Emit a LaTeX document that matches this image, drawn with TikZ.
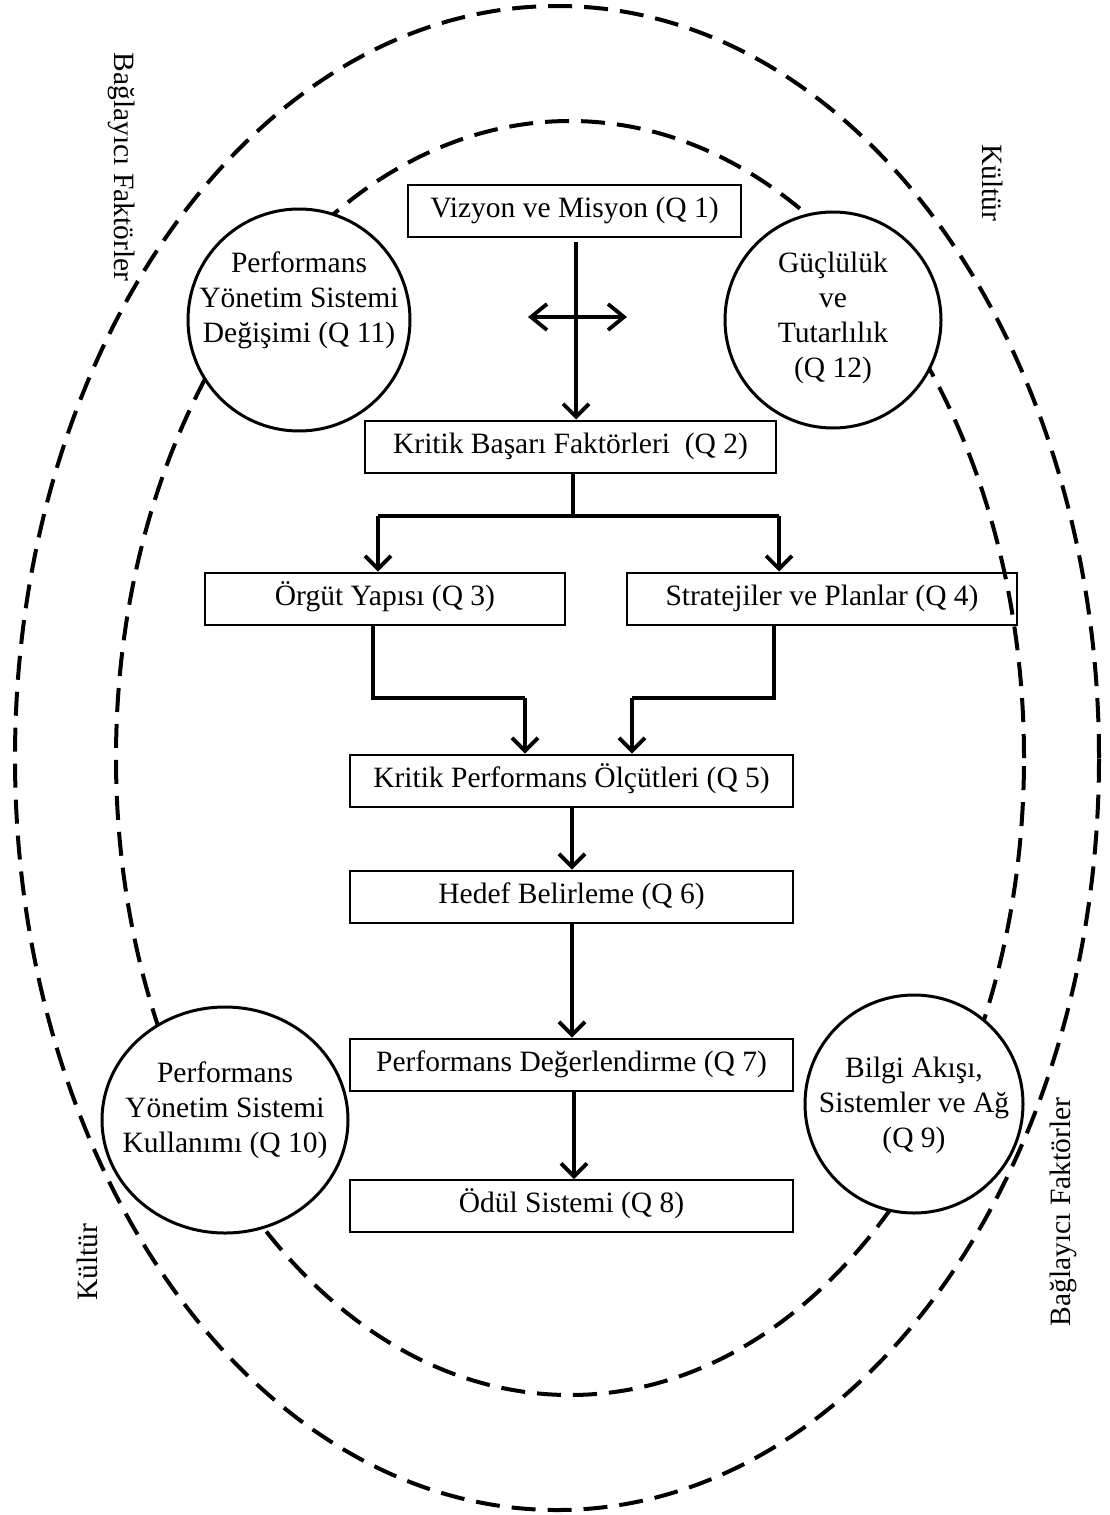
\documentclass[tikz,border=0pt]{standalone}
\usepackage{fontspec}
\setmainfont{Liberation Serif}
\usetikzlibrary{arrows.meta,shapes.geometric}
\begin{document}
\begin{tikzpicture}[x=1pt,y=-1pt,
  txt/.style={font=\fontsize{29.5}{35}\selectfont},
  box/.style={txt, draw, line width=2pt, minimum height=52pt, inner sep=0pt, text height=20pt, text depth=7pt},
  bubble/.style={draw, circle, line width=3pt, fill=white, inner sep=0pt},
  oval/.style={draw, ellipse, line width=3pt, fill=white, inner sep=0pt},
  inside/.style={txt, align=center, inner sep=0pt},
  frame/.style={dash pattern=on 24pt off 12pt, line width=4pt},
  wire/.style={line width=3.8pt},
  arr/.style={wire, -{Straight Barb[length=13pt,width=26pt]}},
  both/.style={wire, {Straight Barb[length=16pt,width=26pt]}-{Straight Barb[length=16pt,width=26pt]}},
  side/.style={txt, inner sep=1pt}
]
\useasboundingbox (0,0) rectangle (1109,1515);

% outer and inner dashed frames
\draw[frame] (557,758) ellipse [x radius=542pt, y radius=752pt];
\draw[frame] (570,758) ellipse [x radius=454pt, y radius=637pt];

% side labels
\node[side, rotate=-90] (bf1) at (122,167) {Bağlayıcı Faktörler};
\node[side, rotate=-90] (ku1) at (993,183) {Kültür};
\node[side, rotate=90] (bf2) at (1063,1212) {Bağlayıcı Faktörler};
\node[side, rotate=90] (ku2) at (87,1262) {Kültür};

% main chain of boxes
\node[box, minimum width=333pt] (q1) at (574.5,210.5) {Vizyon ve Misyon (Q 1)};
\node[box, minimum width=411pt] (q2) at (570.5,446.5) {Kritik Başarı Faktörleri\ \ (Q 2)};
\node[box, minimum width=360pt] (q3) at (385,598.5) {Örgüt Yapısı (Q 3)};
\node[box, minimum width=390pt] (q4) at (822,598.5) {Stratejiler ve Planlar (Q 4)};
\node[box, minimum width=443pt] (q5) at (571.5,780.5) {Kritik Performans Ölçütleri (Q 5)};
\node[box, minimum width=443pt] (q6) at (571.5,896.5) {Hedef Belirleme (Q 6)};
\node[box, minimum width=443pt] (q7) at (571.5,1064.5) {Performans Değerlendirme (Q 7)};
\node[box, minimum width=443pt] (q8) at (571.5,1206) {Ödül Sistemi (Q 8)};

% surrounding factor circles, text set slightly above centre where needed
\node[bubble, minimum size=222pt,
  label={[inside, yshift=20pt]center:Performans\\Yönetim Sistemi\\Değişimi (Q 11)}] (q11) at (299,320) {};
\node[bubble, minimum size=216pt,
  label={[inside, yshift=2pt]center:Güçlülük\\ve\\Tutarlılık\\(Q 12)}] (q12) at (833,320) {};
\node[oval, minimum width=246pt, minimum height=226pt,
  label={[inside, yshift=10pt]center:Performans\\Yönetim Sistemi\\Kullanımı (Q 10)}] (q10) at (225,1120) {};
\node[bubble, minimum size=218pt,
  label={[inside, yshift=-1pt]center:Bilgi Akışı,\\Sistemler ve Ağ\\(Q 9)}] (q9) at (914,1104) {};

% connector anchors
\coordinate (v1) at (576,242);
\coordinate (h1) at (528,317);
\coordinate (h2) at (627,317);
\coordinate (j) at (573,516);
\coordinate (jl) at (378,516);
\coordinate (jr) at (779,516);
\coordinate (k3) at (373,698);
\coordinate (k3e) at (525,698);
\coordinate (k4) at (774,698);
\coordinate (k4e) at (632,698);
\coordinate (m) at (572,0);
\coordinate (m8) at (574,0);

% connectors
\draw[arr] (v1) -- (v1 |- q2.north);
\draw[both] (h1) -- (h2);
\draw[wire] (q2.south -| j) -- (j);
\draw[wire] (jl) -- (jr);
\draw[arr] (jl) -- (jl |- q3.north);
\draw[arr] (jr) -- (jr |- q4.north);
\draw[wire] (q3.south -| k3) -- (k3) -- (k3e);
\draw[arr] (k3e) -- (k3e |- q5.north);
\draw[wire] (q4.south -| k4) -- (k4) -- (k4e);
\draw[arr] (k4e) -- (k4e |- q5.north);
\draw[arr] (q5.south -| m) -- (q6.north -| m);
\draw[arr] (q6.south -| m) -- (q7.north -| m);
\draw[arr] (q7.south -| m8) -- (q8.north -| m8);
\end{tikzpicture}
\end{document}
